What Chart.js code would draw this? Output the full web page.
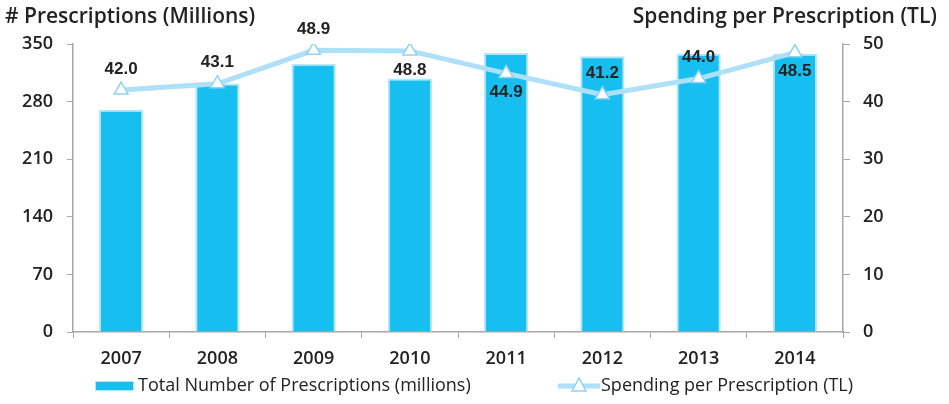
<!DOCTYPE html>
<html>
<head>
<meta charset="utf-8">
<script src="https://cdn.jsdelivr.net/npm/chart.js@4.4.1/dist/chart.umd.min.js"></script>
<style>
  html, body { margin: 0; padding: 0; background: #fff; }
  #wrap { width: 949px; height: 404px; }
</style>
</head>
<body>
<div id="wrap"><canvas id="myChart" width="949" height="404"></canvas></div>
<script>
// data
const years = ['2007', '2008', '2009', '2010', '2011', '2012', '2013', '2014']
const prescriptions = [270, 302, 326, 308, 339, 335, 338, 338]   // millions
const spending = [42.0, 43.1, 48.9, 48.8, 44.9, 41.2, 44.0, 48.5]  // TL
const leftTicks = [0, 70, 140, 210, 280, 350]
const rightTicks = [0, 10, 20, 30, 40, 50]
// where the value label sits relative to the point
const labelPlace = ['above', 'above', 'above', 'below', 'below', 'above', 'above', 'below']

const barColor = '#16bff0'
const barBorder = '#b3e6f9'
const lineColor = '#aee0f7'
const axisColor = '#a6a6a6'
const textColor = '#222'

// value labels + titles + legend, drawn on the canvas
const extras = {
    id: 'extras',
    afterDatasetsDraw(chart) {
        const ctx = chart.ctx
        const meta = chart.getDatasetMeta(1)
        ctx.save()
        ctx.font = 'bold 17px "Liberation Sans", Arial, sans-serif'
        ctx.fillStyle = '#222'
        ctx.textAlign = 'center'
        ctx.textBaseline = 'middle'
        meta.data.forEach((pt, i) => {
            const dy = labelPlace[i] == 'above' ? -21 : 19
            ctx.fillText(spending[i].toFixed(1), pt.x, pt.y + dy)
        })
        ctx.restore()
    },
    afterDraw(chart) {
        const ctx = chart.ctx
        ctx.save()
        ctx.fillStyle = textColor
        ctx.textBaseline = 'middle'
        // axis titles on top
        ctx.font = '600 21px "Open Sans", sans-serif'
        ctx.textAlign = 'left'
        ctx.fillText('# Prescriptions (Millions)', 5, 17)
        ctx.textAlign = 'right'
        ctx.fillText('Spending per Prescription (TL)', 937, 17)

        // legend
        const ly = 386
        ctx.font = '18px "Open Sans", sans-serif'
        ctx.textAlign = 'left'
        ctx.fillStyle = barColor
        ctx.fillRect(95, ly - 5, 39, 10)
        ctx.strokeStyle = barBorder
        ctx.lineWidth = 1
        ctx.strokeRect(95.5, ly - 4.5, 38, 9)
        ctx.fillStyle = textColor
        ctx.fillText(chart.data.datasets[0].label, 138, ly)

        ctx.strokeStyle = lineColor
        ctx.lineWidth = 5
        ctx.beginPath()
        ctx.moveTo(558, ly)
        ctx.lineTo(600, ly)
        ctx.stroke()
        // little triangle marker
        ctx.beginPath()
        ctx.moveTo(579, ly - 8)
        ctx.lineTo(586, ly + 5)
        ctx.lineTo(572, ly + 5)
        ctx.closePath()
        ctx.fillStyle = '#fff'
        ctx.fill()
        ctx.lineWidth = 1.5
        ctx.strokeStyle = '#8fd3f3'
        ctx.stroke()
        ctx.fillStyle = textColor
        ctx.fillText(chart.data.datasets[1].label, 601, ly)
        ctx.restore()
    }
}

const tickFont = { family: '"Open Sans", sans-serif', size: 18, weight: '600' }

const chart = new Chart(document.getElementById('myChart').getContext('2d'), {
    type: 'bar',
    data: {
        labels: years,
        datasets: [{
            label: 'Total Number of Prescriptions (millions)',
            data: prescriptions,
            backgroundColor: barColor,
            borderColor: barBorder,
            borderWidth: 2,
            barPercentage: 0.46,
            categoryPercentage: 1,
            yAxisID: 'y',
            order: 2
        }, {
            type: 'line',
            label: 'Spending per Prescription (TL)',
            data: spending,
            borderColor: lineColor,
            borderWidth: 5,
            tension: 0,
            pointStyle: 'triangle',
            pointRadius: 8,
            pointBackgroundColor: '#fff',
            pointBorderColor: '#8fd3f3',
            pointBorderWidth: 1.5,
            yAxisID: 'y1',
            order: 1
        }]
    },
    options: {
        responsive: false,
        animation: false,
        layout: { padding: { top: 44, left: 0, right: 0, bottom: 0 } },
        plugins: {
            legend: { display: false },
            tooltip: { enabled: false }
        },
        scales: {
            x: {
                grid: {
                    offset: true,
                    drawOnChartArea: false,
                    color: axisColor,
                    tickLength: 6
                },
                border: { color: axisColor, width: 1.5 },
                ticks: { font: tickFont, color: textColor, padding: 10 },
                afterFit: (s) => { s.height = 72 }
            },
            y: {
                position: 'left',
                min: 0,
                max: 350,
                afterBuildTicks: (s) => { s.ticks = leftTicks.map(v => ({ value: v })) },
                grid: { drawOnChartArea: false, color: axisColor, tickLength: 6 },
                border: { color: axisColor, width: 1.5 },
                ticks: { font: tickFont, color: textColor, padding: 14 },
                afterFit: (s) => { s.width = 73 }
            },
            y1: {
                position: 'right',
                min: 0,
                max: 50,
                afterBuildTicks: (s) => { s.ticks = rightTicks.map(v => ({ value: v })) },
                grid: { drawOnChartArea: false, color: axisColor, tickLength: 7 },
                border: { color: axisColor, width: 1.5 },
                ticks: { font: tickFont, color: textColor, padding: 13 },
                afterFit: (s) => { s.width = 106 }
            }
        }
    },
    plugins: [extras]
})
</script>
</body>
</html>
